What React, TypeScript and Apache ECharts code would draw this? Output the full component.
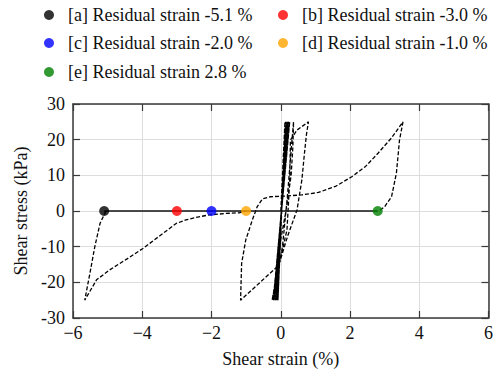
import React, { useEffect, useRef } from 'react';
import * as echarts from 'echarts';

const legendNames = [
  '[a] Residual strain -5.1 %',
  '[b] Residual strain -3.0 %',
  '[c] Residual strain -2.0 %',
  '[d] Residual strain -1.0 %',
  '[e] Residual strain 2.8 %',
];
const residualStrains = [-5.1, -3.0, -2.0, -1.0, 2.8];
const dotColors = ['#000000', '#ff0000', '#0000ff', '#ffa500', '#008000'];

const xTickLabels = ['\u22126', '\u22124', '\u22122', '0', '2', '4', '6'];
const yTickLabels = ['-30', '-20', '-10', '0', '10', '20', '30'];

// dense early cycles (strain %, stress kPa)
const clusterPath = [
  [0.0, 0], [0.12, 25], [-0.08, -25], [0.14, 25], [-0.11, -25], [0.16, 25],
  [-0.13, -25], [0.18, 25], [-0.15, -25], [0.2, 25], [-0.17, -25], [0.22, 25],
  [-0.19, -25], [0.24, 25], [-0.21, -25], [0.26, 25], [-0.22, -25],
];

// growing loops ending at residual strain 2.8 %
const loopPath = [
  [-0.22, -25], [0.0, -8], [0.15, 0], [0.3, 10], [0.35, 18], [0.37, 25],
  [0.3, 17], [0.2, 5], [0.05, -10], [-0.1, -18], [-0.25, -25],
  [-0.05, -15], [0.2, -7], [0.47, 0.3], [0.61, 8.7], [0.68, 15.7], [0.74, 21.3], [0.8, 25],
  [0.47, 22.7], [0.28, 19.9], [0.26, 8.7], [0.18, -5.3], [0.02, -12], [-0.1, -15.6],
  [-1.16, -25], [-1.13, -14.7], [-1.01, -8.1], [-0.82, -2.5], [-0.68, 1.2],
  [-0.53, 3.4], [-0.3, 4.0], [0.13, 4.2], [0.6, 4.5], [1.09, 5.2], [1.6, 7.0],
  [2.05, 9.6], [2.45, 12.5], [2.81, 16.2], [3.2, 20.5], [3.53, 25],
  [3.43, 19.9], [3.34, 10.6], [3.2, 4.0], [3.0, 1.2], [2.83, 0],
];

// left branch from residual strain -5.1 %
const leftPath = [
  [-5.05, 0], [-5.22, -3.5], [-5.37, -10], [-5.51, -17.4], [-5.66, -25],
  [-5.32, -19.3], [-4.94, -16.5], [-4.45, -13.5], [-3.98, -10.5], [-3.5, -7.0],
  [-3.02, -3.5], [-2.74, -2.5], [-2.4, -1.7], [-2.07, -1.1], [-1.6, -0.7],
  [-1.2, -0.5], [-1.0, 0],
];

const zeroLine = [[-5.1, 0], [2.8, 0]];

const FONT = 'Liberation Serif';
const AXIS_COLOR = '#3a3a3a';

export default function App() {
  const ref = useRef<HTMLDivElement>(null);
  useEffect(() => {
    if (!ref.current) return;
    const chart = echarts.init(ref.current, undefined, { renderer: 'svg' });
    const dashed = { type: [4, 2] as any, width: 1.3, color: '#000000' };
    const legendPos = [
      { left: 44, top: 6 },
      { left: 278, top: 6 },
      { left: 44, top: 34 },
      { left: 278, top: 34 },
      { left: 44, top: 63 },
    ];
    const axisCommon = {
      axisLine: { show: true, onZero: false, lineStyle: { color: AXIS_COLOR, width: 1.5 } },
      axisTick: { show: true, inside: true, length: 7, lineStyle: { color: AXIS_COLOR, width: 1.2 } },
    };
    chart.setOption({
      animation: false,
      backgroundColor: '#ffffff',
      textStyle: { fontFamily: FONT },
      legend: legendNames.map((n, i) => ({
        data: [n],
        left: legendPos[i].left,
        top: legendPos[i].top,
        padding: 0,
        icon: 'circle',
        itemWidth: 10,
        itemHeight: 10,
        selectedMode: false,
        textStyle: { fontFamily: FONT, fontSize: 18, color: '#111', padding: [0, 0, 0, 9] },
      })),
      grid: { left: 73, right: 5, top: 104, bottom: 56 },
      xAxis: [
        {
          type: 'value', min: -6, max: 6, interval: 2, position: 'bottom',
          ...axisCommon,
          axisLabel: {
            margin: 6, fontSize: 18, color: '#111', fontFamily: FONT,
            formatter: (v: number) => xTickLabels[Math.round((v + 6) / 2)] ?? String(v),
          },
          splitLine: { show: true, lineStyle: { color: '#dddddd', width: 1 } },
          name: 'Shear strain (%)', nameLocation: 'middle', nameGap: 32,
          nameTextStyle: { fontSize: 18, color: '#111', fontFamily: FONT },
        },
        {
          type: 'value', min: -6, max: 6, interval: 2, position: 'top',
          ...axisCommon,
          axisLabel: { show: false },
          splitLine: { show: false },
        },
      ],
      yAxis: [
        {
          type: 'value', min: -30, max: 30, interval: 10, position: 'left',
          ...axisCommon,
          axisLabel: {
            margin: 8, fontSize: 18, color: '#111', fontFamily: FONT,
            formatter: (v: number) => yTickLabels[Math.round((v + 30) / 10)] ?? String(v),
          },
          splitLine: { show: true, lineStyle: { color: '#dddddd', width: 1 } },
          name: 'Shear stress (kPa)', nameLocation: 'middle', nameGap: 42,
          nameTextStyle: { fontSize: 18, color: '#111', fontFamily: FONT },
        },
        {
          type: 'value', min: -30, max: 30, interval: 10, position: 'right',
          ...axisCommon,
          axisLabel: { show: false },
          splitLine: { show: false },
        },
      ],
      series: [
        { type: 'line', data: clusterPath, showSymbol: false, lineStyle: { ...dashed, width: 1.2 }, z: 2, silent: true },
        { type: 'line', data: loopPath, showSymbol: false, lineStyle: dashed, z: 2, silent: true },
        { type: 'line', data: leftPath, showSymbol: false, lineStyle: dashed, z: 2, silent: true },
        { type: 'line', data: zeroLine, showSymbol: false, lineStyle: { color: '#111', width: 1.5 }, z: 3, silent: true },
        ...legendNames.map((n, i) => ({
          type: 'scatter', name: n, data: [[residualStrains[i], 0]], symbol: 'circle', symbolSize: 10,
          itemStyle: { color: dotColors[i] }, z: 5,
        })),
      ],
    });
    return () => chart.dispose();
  }, []);
  return (
    <div
      ref={ref}
      style={{ position: 'fixed', left: 0, top: 0, width: 496, height: 374 }}
    />
  );
}
